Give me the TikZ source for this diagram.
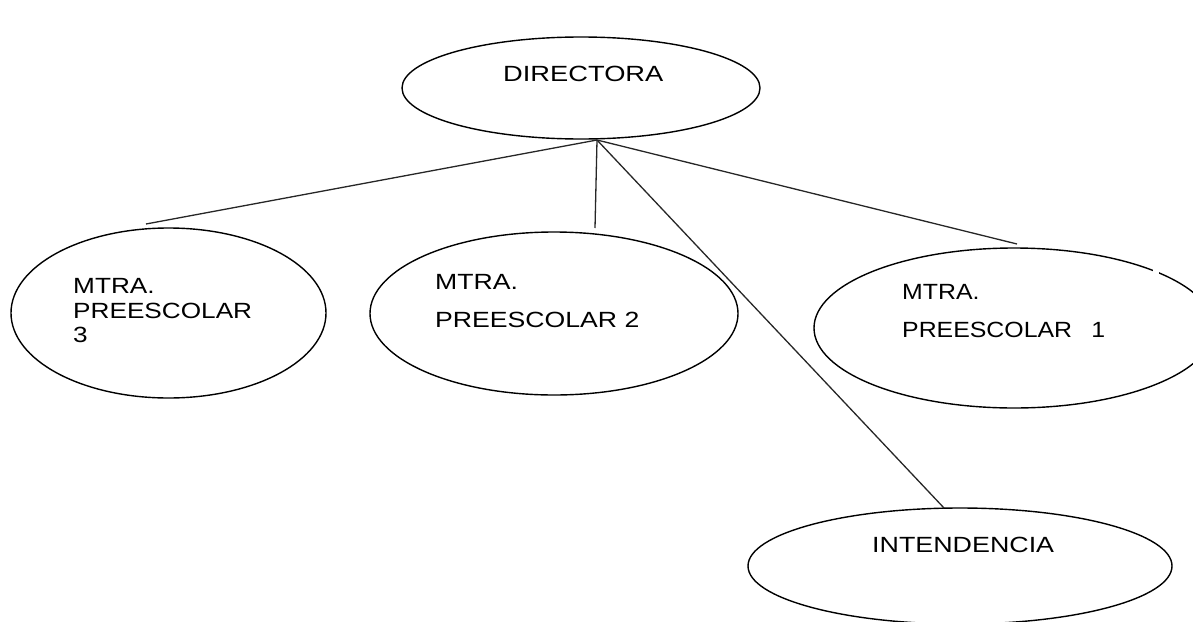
\documentclass[tikz,border=0pt]{standalone}
\usepackage{fontspec}
\setmainfont{Liberation Sans}
\usetikzlibrary{shapes.geometric}
\newcommand\stretchtxt[2]{\scalebox{#1}[1]{#2}}
\tikzset{
  oval/.style={draw, ellipse, line width=1.4pt, inner sep=0pt, fill=none},
  lbl/.style={anchor=base west, inner sep=0pt, text=black, font=\fontsize{22}{26}\selectfont},
  link/.style={line width=1.3pt, draw=black!85}
}
\begin{document}
\begin{tikzpicture}[x=1pt, y=-1pt]
\useasboundingbox (0,0) rectangle (1193,621);
\clip (0,0) rectangle (1193,621);
% ellipses
\node[oval, minimum width=358pt, minimum height=102pt] (dir) at (581,88) {};
\node[oval, minimum width=315pt, minimum height=170pt] (p3) at (168.5,313) {};
\node[oval, minimum width=368pt, minimum height=163pt] (p2) at (554,313.5) {};
\node[oval, minimum width=400pt, minimum height=160pt] (p1) at (1014,328) {};
\node[oval, minimum width=424pt, minimum height=116pt] (int) at (960,566) {};
% small break in the top of the right ellipse
\fill[white] (1153,266) rectangle (1159,276);
% labels
\node[lbl] (tdir) at (503,81) {\stretchtxt{1.24}{DIRECTORA}};
\node[lbl] (t3a) at (73,293) {\stretchtxt{1.19}{MTRA.}};
\node[lbl] (t3b) at (73,318) {\stretchtxt{1.19}{PREESCOLAR}};
\node[lbl] (t3c) at (73,342) {\stretchtxt{1.19}{3}};
\node[lbl] (t2a) at (435,289) {\stretchtxt{1.21}{MTRA.}};
\node[lbl] (t2b) at (435,327) {\stretchtxt{1.21}{PREESCOLAR 2}};
\node[lbl] (t1a) at (902,299) {\stretchtxt{1.13}{MTRA.}};
\node[lbl] (t1b) at (902,337) {\stretchtxt{1.13}{PREESCOLAR\hspace{17pt}1}};
\node[lbl] (tint) at (872,552) {\stretchtxt{1.22}{INTENDENCIA}};
% connector points
\coordinate (apex) at (597,140);
\coordinate (e3) at (146,224);
\coordinate (e2) at (595,228);
\coordinate (e1) at (1017,244);
\coordinate (eint) at (944,508);
\draw[link] (apex) -- (e3);
\draw[link] (apex) -- (e2);
\draw[link] (apex) -- (e1);
\draw[link] (apex) -- (eint);
\end{tikzpicture}
\end{document}
